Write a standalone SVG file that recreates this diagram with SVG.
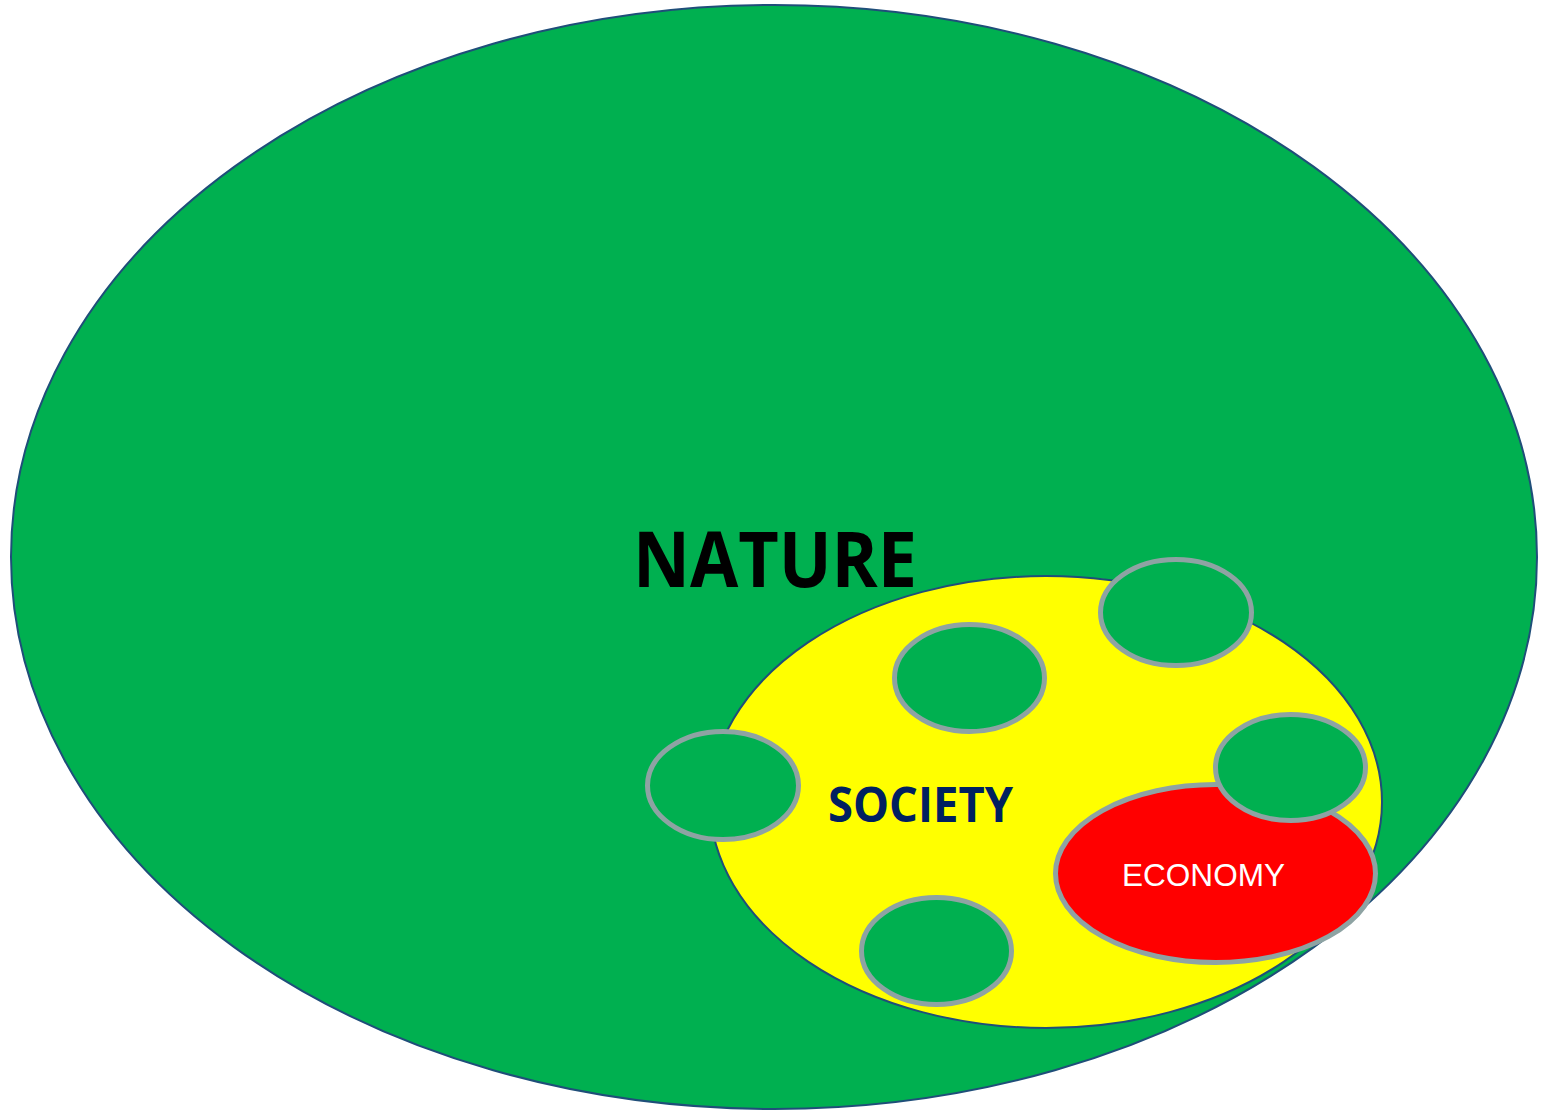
<svg xmlns="http://www.w3.org/2000/svg" width="1543" height="1111" viewBox="0 0 1543 1111">
<style>
.big{stroke:#1F4E79;stroke-width:2}
.sm{fill:#00B050;stroke:#8EA3A3;stroke-width:5}
.lbl{font-family:"Open Sans","Liberation Sans",sans-serif;font-weight:bold}
</style>
<rect width="1543" height="1111" fill="#ffffff"/>
<g id="nature">
<ellipse class="big" cx="774" cy="557" rx="763" ry="552" fill="#00B050"/>
<text class="lbl" x="633" y="587" font-size="77" fill="#000000" textLength="284" lengthAdjust="spacingAndGlyphs">NATURE</text>
</g>
<g id="society">
<ellipse class="big" cx="1046" cy="802" rx="336" ry="226" fill="#FFFF00"/>
<text class="lbl" x="828" y="822" font-size="49" fill="#002060" textLength="185" lengthAdjust="spacingAndGlyphs">SOCIETY</text>
</g>
<g id="e1"><ellipse class="sm" cx="1176" cy="612.5" rx="75.5" ry="53"/></g>
<g id="e2"><ellipse class="sm" cx="969.5" cy="678" rx="75" ry="53.5"/></g>
<g id="e3"><ellipse class="sm" cx="723" cy="785.5" rx="75.5" ry="54"/></g>
<g id="e5"><ellipse class="sm" cx="936.5" cy="951" rx="75" ry="53.5"/></g>
<g id="economy">
<ellipse cx="1215.5" cy="873.5" rx="160" ry="89" fill="#FF0000" stroke="#8EA3A3" stroke-width="5"/>
<text x="1122" y="886" font-family="Liberation Sans, Arial, sans-serif" font-size="32" fill="#ffffff" textLength="163" lengthAdjust="spacingAndGlyphs">ECONOMY</text>
</g>
<g id="e4"><ellipse class="sm" cx="1290.5" cy="767.5" rx="75" ry="53"/></g>
<g id="connectors"></g>
</svg>
